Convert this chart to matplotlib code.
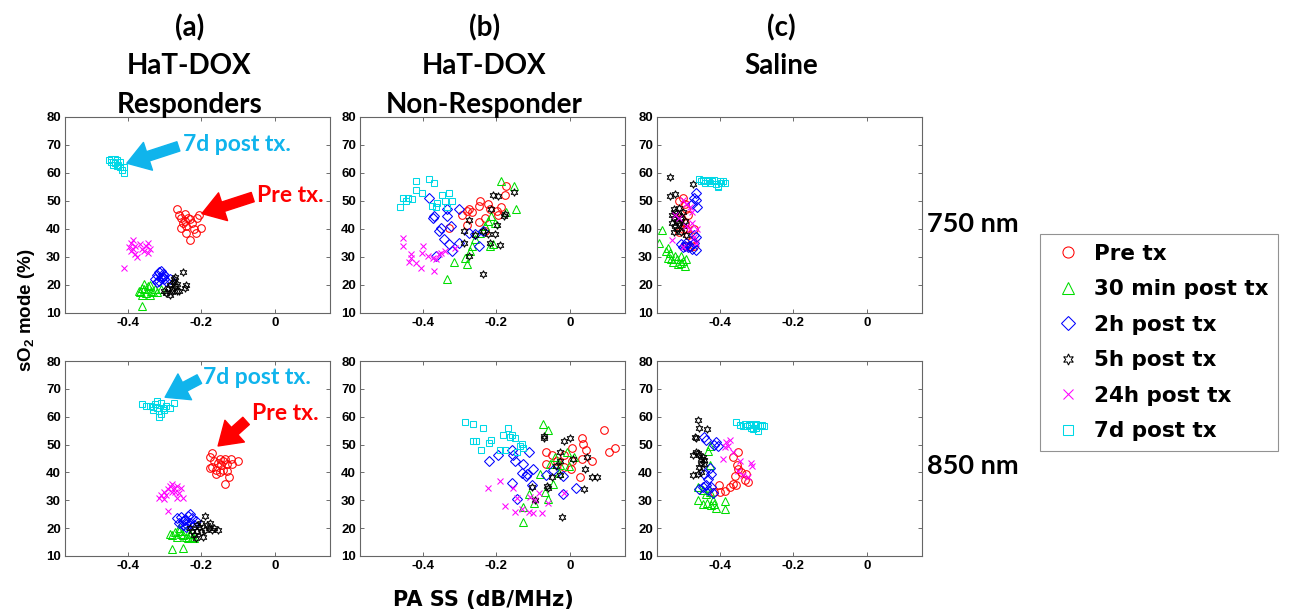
import matplotlib
matplotlib.use('agg')
import matplotlib.pyplot as plt
import numpy as np

plt.rcParams['font.family'] = ['Liberation Sans', 'DejaVu Sans']
plt.rcParams['font.weight'] = 'bold'
plt.rcParams['mathtext.fontset'] = 'custom'
plt.rcParams['mathtext.rm'] = 'Liberation Sans:bold'
plt.rcParams['mathtext.default'] = 'rm'

### data, (PA SS, sO2) pairs

series_labels = ['Pre tx', '30 min post tx', '2h post tx', '5h post tx', '24h post tx', '7d post tx']
column_titles = [['(a)', 'HaT-DOX', 'Responders'], ['(b)', 'HaT-DOX', 'Non-Responder'], ['(c)', 'Saline']]
row_labels = ['750 nm', '850 nm']
x_ticks = [-0.4, -0.2, 0]
x_tick_labels = ['-0.4', '-0.2', '0']
y_ticks = [10, 20, 30, 40, 50, 60, 70, 80]

# (a) responders, 750 nm
resp750_pre = [(-0.265, 47), (-0.26, 45), (-0.255, 44), (-0.25, 42), (-0.245, 43), (-0.24, 41), (-0.235, 44),
               (-0.23, 43.5), (-0.225, 42), (-0.22, 40), (-0.215, 38.5), (-0.23, 36), (-0.21, 44), (-0.205, 45),
               (-0.2, 40.5), (-0.245, 45.5), (-0.255, 40.5), (-0.24, 38.5)]
resp750_30m = [(-0.37, 18), (-0.365, 17.5), (-0.36, 19), (-0.355, 18.5), (-0.35, 17), (-0.345, 19.5), (-0.34, 20),
               (-0.335, 18), (-0.33, 17.5), (-0.325, 18.5), (-0.32, 17.5), (-0.31, 18.5), (-0.355, 20.5),
               (-0.36, 16.5), (-0.34, 16.5), (-0.36, 12.5)]
resp750_2h = [(-0.325, 22), (-0.32, 23.5), (-0.315, 24.5), (-0.31, 22.5), (-0.305, 23), (-0.3, 22), (-0.31, 25),
              (-0.295, 21.5), (-0.32, 21), (-0.305, 24), (-0.285, 22), (-0.3, 23.5), (-0.315, 21.5)]
resp750_5h = [(-0.3, 18), (-0.295, 17), (-0.29, 19), (-0.285, 20), (-0.28, 18.5), (-0.275, 21), (-0.27, 19.5),
              (-0.265, 20.5), (-0.28, 17.5), (-0.275, 22), (-0.25, 24.5), (-0.24, 20), (-0.245, 19), (-0.26, 18),
              (-0.27, 23), (-0.285, 16.5), (-0.265, 18)]
resp750_24h = [(-0.39, 35), (-0.385, 36), (-0.38, 34), (-0.385, 33), (-0.39, 32), (-0.38, 31), (-0.375, 30),
               (-0.395, 33.5), (-0.35, 34), (-0.345, 35), (-0.34, 33), (-0.345, 31.5), (-0.36, 33), (-0.365, 34.5),
               (-0.41, 26), (-0.355, 32)]
resp750_7d = [(-0.45, 64.5), (-0.445, 65), (-0.44, 64), (-0.435, 63.5), (-0.43, 64.5), (-0.425, 63), (-0.42, 62),
              (-0.415, 61), (-0.41, 60), (-0.44, 63), (-0.43, 62.5), (-0.42, 64), (-0.445, 64), (-0.41, 62),
              (-0.435, 65)]

# (b) non-responder, 750 nm
nonr750_pre = [(-0.327, 40.5), (-0.293, 45), (-0.28, 41.4), (-0.273, 47.1), (-0.266, 45.9), (-0.248, 48.1),
               (-0.244, 50.1), (-0.248, 42.6), (-0.23, 44.1), (-0.221, 49.1), (-0.199, 46.5), (-0.186, 47.7),
               (-0.177, 52.1), (-0.172, 55.2), (-0.195, 45), (-0.217, 47.1), (-0.23, 39.3), (-0.28, 46.3)]
nonr750_30m = [(-0.188, 57.3), (-0.152, 55.2), (-0.146, 47.3), (-0.172, 45.9), (-0.333, 22.2), (-0.315, 28.2),
               (-0.28, 27.4), (-0.284, 29.8), (-0.271, 32.2), (-0.266, 33.9), (-0.257, 36.3), (-0.244, 38.7),
               (-0.23, 41.1), (-0.221, 42.9), (-0.213, 44.7), (-0.208, 34.5), (-0.204, 42.3), (-0.217, 33.9)]
nonr750_2h = [(-0.382, 51), (-0.373, 43.8), (-0.369, 44.5), (-0.355, 39.3), (-0.351, 40.2), (-0.333, 47.1),
              (-0.333, 44.5), (-0.324, 41.1), (-0.302, 47.3), (-0.342, 36.3), (-0.329, 34.5), (-0.32, 32.2),
              (-0.364, 30.4), (-0.248, 33.9), (-0.257, 38.1), (-0.235, 39.3), (-0.275, 38.7), (-0.302, 35.1)]
nonr750_5h = [(-0.235, 24.1), (-0.275, 30.3), (-0.288, 34.9), (-0.288, 39.3), (-0.275, 43.3), (-0.257, 37.8),
              (-0.217, 35.1), (-0.221, 38.1), (-0.204, 38.1), (-0.213, 47.3), (-0.208, 52.1), (-0.195, 51.9),
              (-0.199, 41.4), (-0.179, 44.7), (-0.19, 34.2), (-0.152, 53.3), (-0.177, 45.3), (-0.235, 39.3)]
nonr750_24h = [(-0.454, 36.9), (-0.452, 33.9), (-0.431, 31), (-0.438, 28.2), (-0.418, 28), (-0.405, 26.2),
               (-0.4, 33.9), (-0.402, 31.5), (-0.386, 30.3), (-0.373, 29.8), (-0.364, 29.2), (-0.355, 31),
               (-0.351, 31.6), (-0.369, 25), (-0.311, 33.3), (-0.338, 32.2), (-0.431, 29.8)]
nonr750_7d = [(-0.462, 48), (-0.454, 50.9), (-0.44, 51.2), (-0.43, 50.7), (-0.418, 54), (-0.418, 57.3),
              (-0.402, 53), (-0.382, 58), (-0.369, 56.4), (-0.375, 48.3), (-0.364, 48), (-0.346, 52.1),
              (-0.329, 52.9), (-0.321, 50.1), (-0.338, 50.1), (-0.333, 47.7), (-0.36, 49.3), (-0.445, 50)]

# (c) saline, 750 nm
sal750_pre = [(-0.51, 50), (-0.5, 51), (-0.495, 49), (-0.49, 47), (-0.505, 44), (-0.495, 42), (-0.49, 40),
              (-0.485, 38), (-0.475, 36), (-0.47, 34), (-0.48, 33.5), (-0.49, 34), (-0.5, 40), (-0.51, 39),
              (-0.485, 45), (-0.47, 40)]
sal750_30m = [(-0.556, 39.7), (-0.565, 34.9), (-0.54, 33.3), (-0.536, 31.6), (-0.531, 29.2), (-0.527, 28.2),
              (-0.516, 29.4), (-0.504, 30.2), (-0.5, 28.6), (-0.495, 26.8), (-0.522, 30.4), (-0.54, 29.8),
              (-0.513, 27.4), (-0.49, 29.2), (-0.545, 32.2), (-0.504, 28)]
sal750_2h = [(-0.465, 53), (-0.47, 51), (-0.475, 49), (-0.465, 50.5), (-0.46, 48), (-0.47, 38), (-0.465, 37),
             (-0.47, 35), (-0.465, 32.5), (-0.495, 34), (-0.5, 33.5), (-0.505, 34.5), (-0.49, 35), (-0.48, 34),
             (-0.475, 33), (-0.485, 33.5)]
sal750_5h = [(-0.536, 58.5), (-0.536, 51.9), (-0.522, 52.5), (-0.472, 56.1), (-0.525, 47.1), (-0.53, 45),
             (-0.525, 44), (-0.52, 46), (-0.515, 43), (-0.51, 45), (-0.505, 44), (-0.5, 46), (-0.52, 41),
             (-0.515, 40), (-0.51, 42), (-0.505, 39), (-0.5, 41), (-0.53, 42), (-0.495, 43), (-0.49, 38),
             (-0.525, 39), (-0.51, 47.5)]
sal750_24h = [(-0.5, 50.5), (-0.49, 49), (-0.48, 48), (-0.475, 46), (-0.52, 45), (-0.51, 44), (-0.49, 41),
              (-0.48, 40), (-0.47, 37), (-0.465, 35), (-0.53, 36), (-0.5, 33.5), (-0.46, 40), (-0.475, 42)]
sal750_7d = [(-0.455, 58), (-0.45, 57), (-0.445, 57.5), (-0.44, 56.5), (-0.435, 57), (-0.43, 57.5),
             (-0.425, 56.5), (-0.42, 57), (-0.415, 57.5), (-0.41, 56), (-0.405, 55.5), (-0.4, 57), (-0.395, 56.5),
             (-0.39, 57), (-0.385, 56.5), (-0.405, 55)]

# (a) responders, 850 nm
resp850_pre = [(-0.17, 47), (-0.175, 45.5), (-0.165, 44), (-0.17, 42), (-0.16, 41), (-0.175, 41.5), (-0.155, 43.5),
               (-0.15, 45), (-0.145, 42.5), (-0.14, 44), (-0.135, 45), (-0.13, 43), (-0.12, 45), (-0.115, 43),
               (-0.1, 44), (-0.13, 40.5), (-0.125, 38.5), (-0.135, 36), (-0.15, 40), (-0.16, 39.5), (-0.14, 41)]
resp850_30m = [(-0.285, 18), (-0.28, 17.5), (-0.27, 18.5), (-0.265, 17), (-0.26, 19), (-0.255, 18), (-0.25, 17.5),
               (-0.245, 19), (-0.24, 17), (-0.235, 16.5), (-0.23, 18), (-0.225, 17), (-0.26, 20), (-0.28, 12.5),
               (-0.25, 13), (-0.22, 16.5)]
resp850_2h = [(-0.265, 23.5), (-0.26, 22), (-0.255, 24), (-0.25, 22.5), (-0.245, 23), (-0.24, 21.5),
              (-0.235, 24.5), (-0.23, 22), (-0.225, 23.5), (-0.22, 21), (-0.24, 20.5), (-0.25, 21), (-0.23, 25),
              (-0.215, 22.5)]
resp850_5h = [(-0.23, 20), (-0.225, 19), (-0.22, 17.5), (-0.215, 16.5), (-0.21, 19), (-0.205, 20.5), (-0.2, 18.5),
              (-0.195, 17), (-0.19, 19.5), (-0.185, 21), (-0.18, 20), (-0.175, 22), (-0.17, 19.5), (-0.165, 20),
              (-0.155, 19.5), (-0.19, 24.5), (-0.2, 22), (-0.21, 21)]
resp850_24h = [(-0.315, 31), (-0.31, 32), (-0.3, 33), (-0.295, 32), (-0.29, 34), (-0.285, 35), (-0.28, 36),
               (-0.275, 34.5), (-0.27, 33), (-0.265, 35), (-0.26, 32.5), (-0.255, 34.5), (-0.25, 31), (-0.3, 30.5),
               (-0.29, 26), (-0.28, 33), (-0.265, 31)]
resp850_7d = [(-0.36, 64.5), (-0.35, 64), (-0.34, 64), (-0.33, 63.5), (-0.325, 64.5), (-0.32, 63), (-0.315, 62),
              (-0.31, 61), (-0.315, 60), (-0.305, 63), (-0.3, 62.5), (-0.295, 64), (-0.285, 63), (-0.275, 65),
              (-0.31, 65), (-0.32, 65.5), (-0.33, 62.5)]

# (b) non-responder, 850 nm
nonr850_pre = [(-0.064, 47.4), (-0.048, 46.2), (-0.064, 43.2), (-0.016, 46.2), (0.006, 48.9), (0.006, 44.2),
               (0.034, 52.2), (0.037, 50.1), (0.043, 48), (0.061, 44.2), (0.034, 45), (0.093, 55.4), (0.107, 47.4),
               (0.122, 48.9), (0.002, 41.1), (0.027, 38.2), (-0.016, 42), (-0.035, 44.2)]
nonr850_30m = [(-0.073, 57.3), (-0.058, 55.4), (-0.128, 22.3), (-0.128, 27.6), (-0.11, 32.2), (-0.097, 29.1),
               (-0.082, 39.4), (-0.067, 33.1), (-0.058, 30.3), (-0.053, 43.2), (-0.039, 45.4), (-0.026, 42.6),
               (-0.007, 47.4), (-0.003, 42.2), (0.011, 45.6), (-0.046, 35.8), (-0.03, 39.9)]
nonr850_2h = [(-0.219, 44.2), (-0.195, 46.2), (-0.158, 48.2), (-0.155, 46.2), (-0.149, 44.2), (-0.126, 43),
              (-0.11, 47.4), (-0.131, 39.9), (-0.117, 39.6), (-0.099, 41.1), (-0.119, 38.7), (-0.158, 36.3),
              (-0.144, 30.3), (-0.064, 39), (-0.018, 38.7), (0.016, 34.3), (-0.018, 32.2), (-0.103, 35.6),
              (-0.046, 40.8)]
nonr850_5h = [(-0.021, 24.1), (-0.071, 53), (-0.071, 52.5), (-0.016, 51.3), (0.0, 52.2), (-0.026, 47.4),
              (0.009, 45), (0.046, 45.4), (0.04, 41.4), (0.061, 38.2), (0.073, 38.2), (0.038, 33.9),
              (-0.037, 42.2), (-0.027, 39), (-0.048, 38.2), (-0.062, 35.1), (-0.103, 34.9), (-0.094, 30.1),
              (-0.026, 44.2), (-0.058, 34.3)]
nonr850_24h = [(-0.222, 34.3), (-0.19, 37), (-0.155, 34.3), (-0.176, 28), (-0.149, 25.9), (-0.131, 27),
               (-0.11, 25.9), (-0.099, 25.3), (-0.076, 25.3), (-0.108, 31.3), (-0.085, 32.7), (-0.058, 29.1),
               (-0.016, 32.7), (-0.094, 30.1), (-0.144, 30.7)]
nonr850_7d = [(-0.286, 58.1), (-0.263, 57.3), (-0.263, 51.3), (-0.254, 51.3), (-0.236, 56.1), (-0.24, 48.2),
              (-0.219, 50.4), (-0.213, 51.6), (-0.19, 48.2), (-0.176, 48.2), (-0.181, 53.4), (-0.169, 56.1),
              (-0.158, 53.4), (-0.149, 52.2), (-0.135, 49.4), (-0.131, 50.1), (-0.128, 48.9), (-0.144, 47.4),
              (-0.163, 52.8)]

# (c) saline, 850 nm
sal850_pre = [(-0.402, 35.5), (-0.386, 33.5), (-0.373, 34.6), (-0.355, 35.5), (-0.35, 47.4), (-0.364, 45.6),
              (-0.353, 42.6), (-0.359, 38.7), (-0.328, 39.4), (-0.332, 37.2), (-0.323, 36.7), (-0.4, 33.1),
              (-0.414, 32.8), (-0.364, 35.8), (-0.35, 41.4), (-0.341, 40.2)]
sal850_30m = [(-0.427, 49.4), (-0.432, 47.8), (-0.427, 42.6), (-0.459, 34.8), (-0.459, 30.1), (-0.446, 28.8),
              (-0.434, 29.1), (-0.423, 28.3), (-0.414, 28.8), (-0.41, 27.1), (-0.386, 29.6), (-0.386, 26.8),
              (-0.437, 32.4), (-0.419, 30.1), (-0.427, 33.1), (-0.446, 33.7)]
sal850_2h = [(-0.441, 52.8), (-0.437, 51.6), (-0.41, 51), (-0.405, 49.4), (-0.414, 49.8), (-0.427, 41.7),
             (-0.423, 39.3), (-0.432, 37.8), (-0.437, 35.5), (-0.455, 33.9), (-0.432, 33.6), (-0.419, 32.5),
             (-0.423, 34.8), (-0.446, 34.6), (-0.441, 39.6)]
sal850_5h = [(-0.459, 58.7), (-0.456, 56.1), (-0.434, 55.7), (-0.468, 52.8), (-0.463, 52.2), (-0.463, 47.4),
             (-0.471, 46.2), (-0.455, 46.2), (-0.45, 45), (-0.446, 45.6), (-0.441, 44.4), (-0.45, 43.2),
             (-0.455, 42), (-0.459, 46.8), (-0.471, 39), (-0.459, 39.6), (-0.45, 40.2), (-0.443, 42.9)]
sal850_24h = [(-0.382, 51), (-0.373, 51.6), (-0.384, 49.2), (-0.378, 49.4), (-0.391, 45), (-0.364, 47.4),
              (-0.344, 44.2), (-0.314, 43.5), (-0.311, 42.3), (-0.35, 40.5), (-0.323, 38.2), (-0.337, 39)]
sal850_7d = [(-0.355, 58), (-0.345, 57), (-0.335, 56.5), (-0.33, 57.5), (-0.325, 56.5), (-0.32, 57),
             (-0.315, 56), (-0.31, 55.5), (-0.305, 57), (-0.3, 56), (-0.295, 55), (-0.29, 56.5), (-0.285, 57),
             (-0.28, 56.5), (-0.3, 57.5), (-0.315, 57.5)]

# arrow annotations on the responder panels: (text, text x, text y, tail, head)
resp750_notes = [('7d post tx.', -0.249, 70, (-0.262, 69.5), (-0.402, 63.5)),
                 ('Pre tx.', -0.048, 52, (-0.06, 51.4), (-0.198, 45.5))]
resp850_notes = [('7d post tx.', -0.195, 73.9, (-0.205, 73.5), (-0.298, 67)),
                 ('Pre tx.', -0.062, 61, (-0.078, 58.5), (-0.154, 49.5))]

### styling

W, H = 1292, 613
marker_styles = [dict(marker='o', color='#ff0000', ms=5.5),
                 dict(marker='^', color='#00dd00', ms=5.5),
                 dict(marker='D', color='#0000ff', ms=4.6),
                 dict(marker=(6, 1, 0), color='#000000', ms=5.5),
                 dict(marker='x', color='#ff00ff', ms=5.0),
                 dict(marker='s', color='#00d8e6', ms=4.8)]
note_colors = {'7d post tx.': '#10b4ec', 'Pre tx.': '#ff0000'}
title_font = ['Lato', 'DejaVu Sans']

panels = [[[resp750_pre, resp750_30m, resp750_2h, resp750_5h, resp750_24h, resp750_7d],
           [nonr750_pre, nonr750_30m, nonr750_2h, nonr750_5h, nonr750_24h, nonr750_7d],
           [sal750_pre, sal750_30m, sal750_2h, sal750_5h, sal750_24h, sal750_7d]],
          [[resp850_pre, resp850_30m, resp850_2h, resp850_5h, resp850_24h, resp850_7d],
           [nonr850_pre, nonr850_30m, nonr850_2h, nonr850_5h, nonr850_24h, nonr850_7d],
           [sal850_pre, sal850_30m, sal850_2h, sal850_5h, sal850_24h, sal850_7d]]]
notes = {(0, 0): resp750_notes, (1, 0): resp850_notes}

col_left = [65, 360, 657]
col_right = [330, 625, 922]
row_top = [117, 361]
row_bottom = [313, 556]


def px_rect(left, top, right, bottom):
    return [left / W, 1 - bottom / H, (right - left) / W, (bottom - top) / H]


fig = plt.figure(figsize=(W / 100, H / 100), dpi=100)
handles = []
for r in range(2):
    for c in range(3):
        ax = fig.add_axes(px_rect(col_left[c], row_top[r], col_right[c], row_bottom[r]))
        for k, pts in enumerate(panels[r][c]):
            st = marker_styles[k]
            xy = np.array(pts)
            h, = ax.plot(xy[:, 0], xy[:, 1], linestyle='none', marker=st['marker'], markersize=st['ms'],
                         markerfacecolor='none', markeredgecolor=st['color'], markeredgewidth=0.75,
                         label=series_labels[k])
            if r == 0 and c == 0:
                handles.append(h)
        for txt, tx, ty, tail, head in notes.get((r, c), []):
            col = note_colors[txt]
            ax.annotate('', xy=head, xytext=tail,
                        arrowprops=dict(facecolor=col, edgecolor=col, width=7, headwidth=21, headlength=16, shrink=0))
            ax.text(tx, ty, txt, color=col, fontsize=16.5, fontweight='bold', family=title_font,
                    va='center', ha='left')
        ax.set_xlim(-0.57, 0.15)
        ax.set_ylim(10, 80)
        ax.set_xticks(x_ticks)
        ax.set_xticklabels(x_tick_labels)
        ax.set_yticks(y_ticks)
        ax.tick_params(direction='in', top=True, right=True, length=3, width=0.6, labelsize=9.5, pad=3,
                       color='#555555')
        for sp in ax.spines.values():
            sp.set_color('#666666')
            sp.set_linewidth(0.8)
        if r == 0:
            cx = (col_left[c] + col_right[c]) / 2 - 8
            for i, line in enumerate(column_titles[c]):
                fig.text(cx / W, 1 - (28 + 38.5 * i) / H, line, ha='center', va='center', fontsize=20,
                         fontweight='bold', family=title_font)

fig.text(973 / W, 1 - 224 / H, row_labels[0], ha='center', va='center', fontsize=19.5, fontweight='bold',
         family=title_font)
fig.text(973 / W, 1 - 466 / H, row_labels[1], ha='center', va='center', fontsize=19.5, fontweight='bold',
         family=title_font)

fig.text(483 / W, 1 - 600 / H, 'PA SS (dB/MHz)', ha='center', va='center', fontsize=15, fontweight='bold',
         family='DejaVu Sans')
fig.text(27 / W, 1 - 310 / H, 'sO$_2$ mode (%)', ha='center', va='center', rotation=90, fontsize=13.5,
         fontweight='bold')

leg = fig.legend(handles=handles, loc='upper left', bbox_to_anchor=(1040 / W, 1 - 234 / H),
                 bbox_transform=fig.transFigure, frameon=True, fancybox=False, edgecolor='#777777',
                 prop=dict(family='DejaVu Sans', size=15.5, weight='bold'), markerscale=1.45,
                 handlelength=1.7, handletextpad=0.35, labelspacing=0.72, borderpad=0.45, borderaxespad=0)
leg.get_frame().set_linewidth(0.8)

fig.savefig('out.png', dpi=100)
